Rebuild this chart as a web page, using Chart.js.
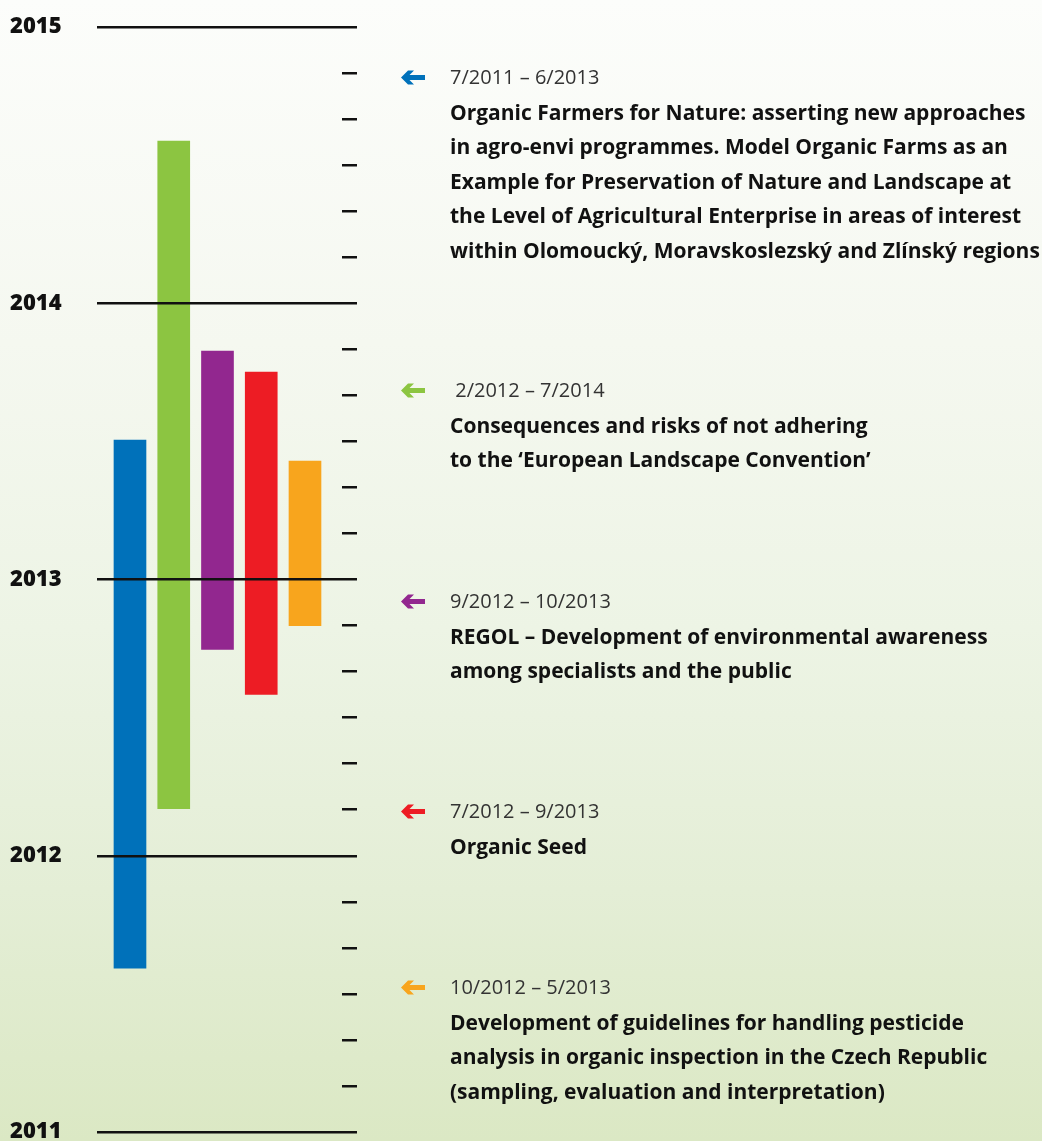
<!DOCTYPE html>
<html>
<head>
<meta charset="utf-8">
<script src="https://cdn.jsdelivr.net/npm/chart.js@4.4.1/dist/chart.umd.min.js"></script>
<style>
html, body { margin: 0; padding: 0; overflow: hidden; }
body {
    width: 1042px;
    height: 1141px;
    background: linear-gradient(to bottom, #fcfdfb 0%, #f5f8f0 30%, #edf4e5 55%, #e4eed6 78%, #dbe8c4 100%);
    font-family: 'Open Sans', 'Noto Sans', sans-serif;
}
#wrap { position: relative; width: 1042px; height: 1141px; overflow: hidden; }
#timeline { position: absolute; left: 0; top: 0; }
.note { position: absolute; left: 400px; width: 642px; }
.note svg { position: absolute; left: 1px; top: 10px; }
.date { margin-left: 50px; font-size: 20px; line-height: 34.5px; color: #333; white-space: pre; }
.title { margin-left: 50px; font-size: 21px; line-height: 34.5px; font-weight: bold; color: #111; white-space: pre-line; }
</style>
</head>
<body>
<div id="wrap">
    <canvas id="timeline" width="1042" height="1160"></canvas>
    <div id="notes"></div>
</div>
<script>
const years = [2011, 2012, 2013, 2014, 2015];
const dateLabels = ['7/2011 – 6/2013', ' 2/2012 – 7/2014', '9/2012 – 10/2013', '7/2012 – 9/2013', '10/2012 – 5/2013'];
const projects = [
    'Organic Farmers for Nature: asserting new approaches\nin agro-envi programmes. Model Organic Farms as an\nExample for Preservation of Nature and Landscape at\nthe Level of Agricultural Enterprise in areas of interest\nwithin Olomoucký, Moravskoslezský and Zlínský regions',
    'Consequences and risks of not adhering\nto the ‘European Landscape Convention’',
    'REGOL – Development of environmental awareness\namong specialists and the public',
    'Organic Seed',
    'Development of guidelines for handling pesticide\nanalysis in organic inspection in the Czech Republic\n(sampling, evaluation and interpretation)'
];
// start / end of each project in years
const barStart = [2011.593, 2012.170, 2012.747, 2012.584, 2012.833];
const barEnd = [2013.505, 2014.587, 2013.827, 2013.751, 2013.429];
const barColors = ['#0071ba', '#8cc541', '#92278f', '#ed1c24', '#f8a51d'];

const noteTop = [60, 373, 584, 794, 970];

function isYear(v) {
    return Math.abs(v - Math.round(v)) < 1e-6;
}

function drawTimeline() {
    const points = [];
    for (let i = 0; i < barStart.length; i++)
        points.push({ x: i, y: [barStart[i], barEnd[i]] });
    const data = {
        datasets: [{
            label: 'Projects',
            data: points,
            backgroundColor: barColors,
            barThickness: 32,
            borderWidth: 0
        }]
    };
    const config = {
        type: 'bar',
        data: data,
        options: {
            responsive: false,
            animation: false,
            layout: { padding: { left: 10, right: 685, top: 27, bottom: 28 } },
            plugins: { legend: { display: false }, tooltip: { enabled: false } },
            scales: {
                x: { type: 'linear', display: false, offset: false, min: -0.754, max: 4.846 },
                y: {
                    min: years[0],
                    max: years[years.length - 1],
                    border: { display: false },
                    grid: {
                        z: 1,
                        drawTicks: false,
                        color: c => isYear(c.tick.value) ? '#111' : 'rgba(0,0,0,0)',
                        lineWidth: 2.5
                    },
                    ticks: {
                        stepSize: 1 / 6,
                        autoSkip: false,
                        crossAlign: 'far',
                        padding: 0,
                        color: '#111',
                        font: { family: 'Open Sans', weight: 800, size: 22 },
                        callback: v => isYear(v) ? String(Math.round(v)) : ''
                    },
                    afterFit: s => { s.width = 87; }
                },
                y2: {
                    position: 'right',
                    min: years[0],
                    max: years[years.length - 1],
                    border: { display: false },
                    grid: { drawOnChartArea: false, drawTicks: true, tickLength: 15, color: '#111', lineWidth: 2.5 },
                    ticks: { display: false, stepSize: 1 / 6, autoSkip: false },
                    afterFit: s => { s.width = 15; }
                }
            }
        }
    };
    let ctx = document.getElementById('timeline').getContext('2d');
    new Chart(ctx, config);
}

function drawNotes() {
    const box = document.getElementById('notes');
    for (let i = 0; i < projects.length; i++) {
        let div = document.createElement('div');
        div.className = 'note';
        div.style.top = noteTop[i] + 'px';
        div.innerHTML = '<svg width="24" height="15" viewBox="0 0 24 15"><path fill="' + barColors[i] +
            '" d="M0 7.5 L7 0.5 L13 0.5 L8.5 5 L24 5 L24 10 L8.5 10 L13 14.5 L7 14.5 Z"/></svg>' +
            '<div class="date"></div><div class="title"></div>';
        div.querySelector('.date').textContent = dateLabels[i];
        div.querySelector('.title').textContent = projects[i];
        box.appendChild(div);
    }
}

drawTimeline();
drawNotes();
</script>
</body>
</html>
